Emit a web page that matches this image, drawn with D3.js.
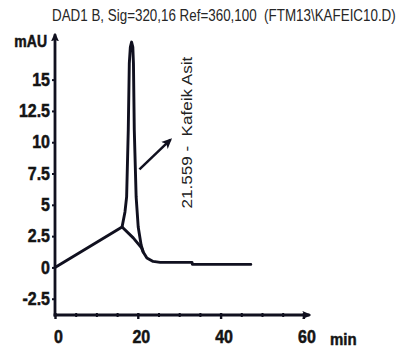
<!DOCTYPE html>
<html>
<head>
<meta charset="utf-8">
<script src="https://cdn.jsdelivr.net/npm/d3@7"></script>
<style>
  html, body { margin: 0; padding: 0; background: #fff; }
  svg { display: block; }
  text { font-family: "Liberation Sans", Arial, sans-serif; }
  .heavy { font-weight: bold; stroke: #141414; stroke-width: 0.45px; }
</style>
</head>
<body>
<svg id="chart" width="406" height="351"></svg>
<script>
// ---- data ----
const titleText = "DAD1 B, Sig=320,16 Ref=360,100  (FTM13\\KAFEIC10.D)";
const yUnit = "mAU";
const xUnit = "min";
const peakLabel = "21.559 -  Kafeik Asit";

// main trace (time in min, signal in mAU)
const mainTimes  = [0, 16.2, 16.9, 17.3, 17.7, 17.95, 18.2, 18.5, 18.8, 18.95, 19.15, 19.6, 20.1, 20.8, 21.3, 22.2, 23.7, 25.4, 33.1, 33.2, 47.3];
const mainValues = [0, 3.23, 4.43, 5.63, 11.0, 16.3, 17.6, 18.0, 17.6, 16.3, 11.0, 5.63, 3.23, 1.8, 1.24, 0.76, 0.48, 0.40, 0.40, 0.24, 0.24];

// secondary branch from the junction down to the tail
const branchTimes  = [16.2, 18.9, 20.9, 21.3];
const branchValues = [3.23, 2.36, 1.56, 1.24];

// annotation arrow (time, mAU)
const arrowTimes  = [20.4, 27.9];
const arrowValues = [7.83, 10.2];
const labelTime = 33.0;
const labelValue = 4.7;

const yTicks = [-2.5, 0, 2.5, 5, 7.5, 10, 12.5, 15];
const yTickLabels = ["-2.5", "0", "2.5", "5", "7.5", "10", "12.5", "15"];
const xMajorTicks = [0, 20, 40, 60];
const xMinorTicks = [5, 10, 15, 25, 30, 35, 45, 50, 55];

// ---- drawing ----
const svg = d3.select("#chart");
const ink = "#10101f";
const txt = "#141414";

const x = d3.scaleLinear().domain([0, 61.5]).range([55, 309.6]);
const y = d3.scaleLinear().domain([-3.8, 18.7]).range([315, 33.3]);

const defs = svg.append("defs");
defs.append("marker").attr("id", "axArrow")
  .attr("viewBox", "0 -5 10 10").attr("refX", 8).attr("refY", 0)
  .attr("markerWidth", 3.2).attr("markerHeight", 3.2).attr("orient", "auto")
  .attr("markerUnits", "strokeWidth")
  .append("path").attr("d", "M0,-4.5L10,0L0,4.5L2,0Z").attr("fill", ink);
defs.append("marker").attr("id", "annArrow")
  .attr("viewBox", "0 -5 10 10").attr("refX", 8).attr("refY", 0)
  .attr("markerWidth", 4.2).attr("markerHeight", 4.2).attr("orient", "auto")
  .attr("markerUnits", "strokeWidth")
  .append("path").attr("d", "M0,-4.5L10,0L0,4.5L2.5,0Z").attr("fill", ink);

// title (glyphs slightly tall, as in the reference)
svg.append("text")
  .attr("transform", "translate(52,21) scale(1,1.18)")
  .style("font-size", "13.4px")
  .attr("fill", "#262626")
  .style("white-space", "pre")
  .text(titleText);

// Y axis
const yAxis = svg.append("g")
  .attr("transform", `translate(${x(0)},0)`)
  .call(d3.axisLeft(y).tickValues(yTicks).tickSize(3).tickPadding(2)
        .tickFormat((d, i) => yTickLabels[i]));
yAxis.select(".domain").remove();
yAxis.selectAll(".tick line").attr("stroke", ink).attr("stroke-width", 2);
yAxis.selectAll(".tick text")
  .attr("class", "heavy")
  .style("font-size", "16px").attr("fill", txt)
  .attr("transform", "scale(1,1.12)");
svg.append("line")
  .attr("x1", x(0)).attr("x2", x(0))
  .attr("y1", y(-3.8) + 1.5).attr("y2", y(18.7) + 1)
  .attr("stroke", ink).attr("stroke-width", 2.8)
  .attr("marker-end", "url(#axArrow)");

// X axis
const xMinor = svg.append("g")
  .attr("transform", `translate(0,${y(-3.8) - 2})`)
  .call(d3.axisBottom(x).tickValues(xMinorTicks).tickSize(4).tickFormat(""));
xMinor.select(".domain").remove();
xMinor.selectAll(".tick line").attr("stroke", ink).attr("stroke-width", 2);

const xMajor = svg.append("g")
  .attr("transform", `translate(0,${y(-3.8) - 2})`)
  .call(d3.axisBottom(x).tickValues(xMajorTicks).tickSize(6).tickFormat(d3.format("d")));
xMajor.select(".domain").remove();
xMajor.selectAll(".tick line").attr("stroke", ink).attr("stroke-width", 2.4);
xMajor.selectAll(".tick text")
  .attr("class", "heavy")
  .attr("y", 0).attr("dy", null)
  .attr("transform", "translate(3,30) scale(1,1.12)")
  .style("font-size", "16px").attr("fill", txt);
svg.append("line")
  .attr("x1", x(0) - 1.4).attr("x2", x(61.5))
  .attr("y1", y(-3.8)).attr("y2", y(-3.8))
  .attr("stroke", ink).attr("stroke-width", 2.8)
  .attr("marker-end", "url(#axArrow)");

// axis unit labels
svg.append("text")
  .attr("class", "heavy")
  .attr("transform", "translate(47,47) scale(1,1.12)")
  .attr("text-anchor", "end").style("font-size", "14px")
  .attr("fill", txt).text(yUnit);
svg.append("text")
  .attr("class", "heavy")
  .attr("transform", "translate(330,345) scale(1,1.12)")
  .style("font-size", "15px")
  .attr("fill", txt).text(xUnit);

// traces
const line = d3.line().x(d => x(d[0])).y(d => y(d[1]));
const mainData = mainTimes.map((t, i) => [t, mainValues[i]]);
const branchData = branchTimes.map((t, i) => [t, branchValues[i]]);

svg.append("path").datum(mainData)
  .attr("d", line).attr("fill", "none")
  .attr("stroke", ink).attr("stroke-width", 2.9)
  .attr("stroke-linejoin", "round").attr("stroke-linecap", "round");
svg.append("path").datum(branchData)
  .attr("d", line).attr("fill", "none")
  .attr("stroke", ink).attr("stroke-width", 2.9)
  .attr("stroke-linejoin", "round").attr("stroke-linecap", "round");

// annotation arrow
svg.append("line")
  .attr("x1", x(arrowTimes[0])).attr("y1", y(arrowValues[0]))
  .attr("x2", x(arrowTimes[1])).attr("y2", y(arrowValues[1]))
  .attr("stroke", ink).attr("stroke-width", 2.5)
  .attr("marker-end", "url(#annArrow)");

// rotated peak label (stretched along its length, as in the reference)
svg.append("text")
  .attr("transform", `translate(${x(labelTime)},${y(labelValue)}) rotate(-90) scale(1.22,1)`)
  .style("font-size", "14px")
  .attr("fill", "#222")
  .style("white-space", "pre")
  .text(peakLabel);
</script>
</body>
</html>
